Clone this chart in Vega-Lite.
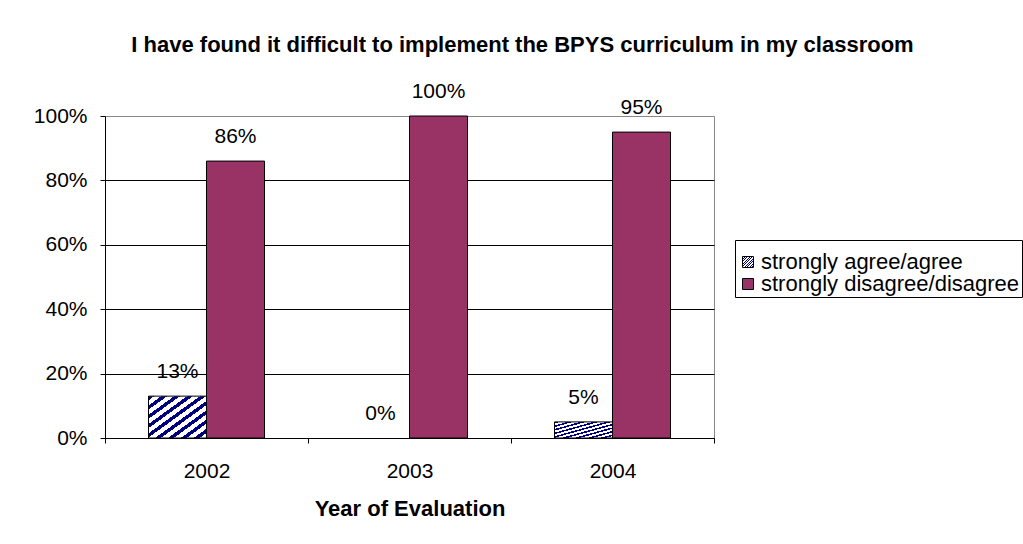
{
  "$schema": "https://vega.github.io/schema/vega-lite/v6.json",
  "width": 609,
  "height": 322,
  "autosize": {"type": "none"},
  "padding": {"left": 105, "top": 116, "right": 309, "bottom": 106},
  "background": "white",
  "title": {
    "text": "I have found it difficult to implement the BPYS curriculum in my classroom",
    "font": "Liberation Sans",
    "fontSize": 22,
    "fontWeight": "bold",
    "color": "black",
    "anchor": "middle",
    "dx": 113,
    "offset": 24
  },
  "data": {
    "values": [
      {"year": "2002", "response": "strongly agree/agree", "pct": 0.13},
      {"year": "2002", "response": "strongly disagree/disagree", "pct": 0.86},
      {"year": "2003", "response": "strongly agree/agree", "pct": 0.0},
      {"year": "2003", "response": "strongly disagree/disagree", "pct": 1.0},
      {"year": "2004", "response": "strongly agree/agree", "pct": 0.05},
      {"year": "2004", "response": "strongly disagree/disagree", "pct": 0.95}
    ]
  },
  "encoding": {
    "x": {
      "field": "year",
      "type": "nominal",
      "scale": {"paddingInner": 0, "paddingOuter": 0},
      "axis": {
        "title": "Year of Evaluation",
        "titleFont": "Liberation Sans",
        "titleFontSize": 22,
        "titleFontWeight": "bold",
        "titleColor": "black",
        "titlePadding": 17,
        "labelFont": "Liberation Sans",
        "labelFontSize": 21,
        "labelColor": "black",
        "labelAngle": 0,
        "labelPadding": 17,
        "tickBand": "extent",
        "tickSize": 5,
        "tickColor": "black",
        "domainColor": "black",
        "grid": false
      }
    },
    "xOffset": {
      "field": "response",
      "type": "nominal",
      "scale": {"domain": ["strongly agree/agree", "strongly disagree/disagree"], "paddingOuter": 0.75, "paddingInner": 0}
    },
    "y": {
      "field": "pct",
      "type": "quantitative",
      "scale": {"domain": [0, 1]},
      "axis": {
        "title": null,
        "format": ".0%",
        "values": [0, 0.2, 0.4, 0.6, 0.8, 1],
        "labelFont": "Liberation Sans",
        "labelFontSize": 21,
        "labelColor": "black",
        "labelPadding": 13,
        "tickSize": 5,
        "tickColor": "black",
        "domainColor": "black",
        "grid": true,
        "gridColor": {"condition": {"test": "datum.value == 1", "value": "#888888"}, "value": "black"},
        "gridOpacity": 1
      }
    }
  },
  "layer": [
    {
      "transform": [{"filter": "datum.pct > 0"}],
      "mark": {"type": "bar", "stroke": "black", "strokeWidth": 1},
      "encoding": {
        "color": {
          "field": "response",
          "type": "nominal",
          "scale": {
            "domain": ["strongly agree/agree", "strongly disagree/disagree"],
            "range": [
              {"expr": "{gradient: 'linear', x1: 0, y1: 0, x2: 1, y2: 1, stops: [{offset: 0, color: '#000080'}, {offset: 0.05, color: '#000080'}, {offset: 0.05, color: 'white'}, {offset: 0.111, color: 'white'}, {offset: 0.111, color: '#000080'}, {offset: 0.161, color: '#000080'}, {offset: 0.161, color: 'white'}, {offset: 0.222, color: 'white'}, {offset: 0.222, color: '#000080'}, {offset: 0.272, color: '#000080'}, {offset: 0.272, color: 'white'}, {offset: 0.333, color: 'white'}, {offset: 0.333, color: '#000080'}, {offset: 0.383, color: '#000080'}, {offset: 0.383, color: 'white'}, {offset: 0.444, color: 'white'}, {offset: 0.444, color: '#000080'}, {offset: 0.494, color: '#000080'}, {offset: 0.494, color: 'white'}, {offset: 0.556, color: 'white'}, {offset: 0.556, color: '#000080'}, {offset: 0.606, color: '#000080'}, {offset: 0.606, color: 'white'}, {offset: 0.667, color: 'white'}, {offset: 0.667, color: '#000080'}, {offset: 0.717, color: '#000080'}, {offset: 0.717, color: 'white'}, {offset: 0.778, color: 'white'}, {offset: 0.778, color: '#000080'}, {offset: 0.828, color: '#000080'}, {offset: 0.828, color: 'white'}, {offset: 0.889, color: 'white'}, {offset: 0.889, color: '#000080'}, {offset: 0.939, color: '#000080'}, {offset: 0.939, color: 'white'}, {offset: 1, color: 'white'}]}"},
              "#993366"
            ]
          },
          "legend": {
            "title": " ",
            "titleFontSize": 9,
            "titlePadding": 0,
            "orient": "none",
            "legendX": 630,
            "legendY": 124,
            "padding": 2,
            "strokeColor": "black",
            "fillColor": "white",
            "symbolType": "square",
            "symbolSize": 121,
            "symbolStrokeColor": "black",
            "symbolStrokeWidth": 1,
            "symbolOpacity": 1,
            "labelFont": "Liberation Sans",
            "labelFontSize": 22,
            "labelColor": "black",
            "labelLimit": 400,
            "labelOffset": 2,
            "rowPadding": 0
          }
        }
      }
    },
    {
      "mark": {
        "type": "text",
        "font": "Liberation Sans",
        "fontSize": 21,
        "color": "black",
        "baseline": "middle",
        "dy": -24
      },
      "encoding": {
        "text": {"field": "pct", "type": "quantitative", "format": ".0%"}
      }
    }
  ],
  "config": {
    "view": {"stroke": "#888888", "strokeWidth": 1}
  }
}
